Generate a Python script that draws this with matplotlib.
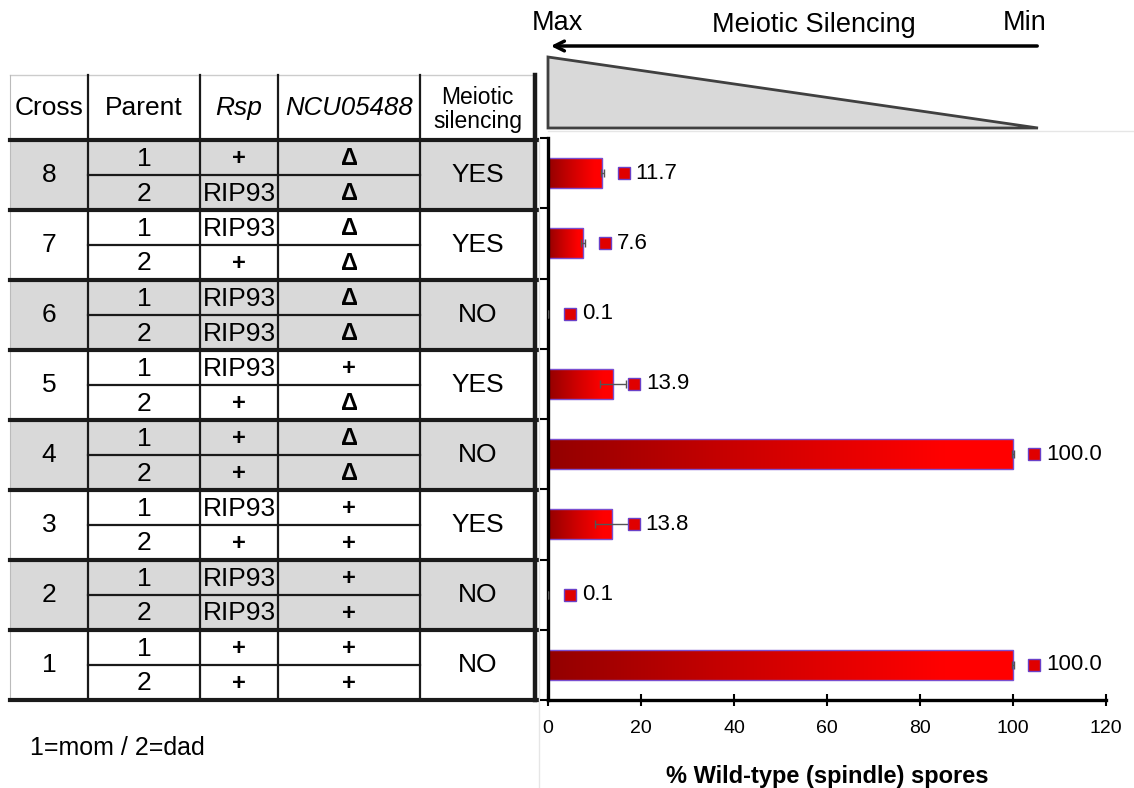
import numpy as np
import matplotlib
matplotlib.use("Agg")
import matplotlib.pyplot as plt
from matplotlib.colors import LinearSegmentedColormap
from matplotlib.patches import Polygon, Rectangle

plt.rcParams['font.family'] = ['Liberation Sans', 'DejaVu Sans']

# ---- data ----
crosses = [8, 7, 6, 5, 4, 3, 2, 1]
parents = ["1", "2"]
rsp = [("+", "RIP93"), ("RIP93", "+"), ("RIP93", "RIP93"), ("RIP93", "+"),
       ("+", "+"), ("RIP93", "+"), ("RIP93", "RIP93"), ("+", "+")]
ncu05488 = [("Δ", "Δ"), ("Δ", "Δ"), ("Δ", "Δ"), ("+", "Δ"),
            ("Δ", "Δ"), ("+", "+"), ("+", "+"), ("+", "+")]
silencing = ["YES", "YES", "NO", "YES", "NO", "YES", "NO", "NO"]
wild_type = [11.7, 7.6, 0.1, 13.9, 100.0, 13.8, 0.1, 100.0]
wild_type_err = [0.4, 0.4, 0.0, 2.8, 0.3, 3.6, 0.0, 0.3]
x_ticks = [0, 20, 40, 60, 80, 100, 120]

W, H = 1134, 788
fig = plt.figure(figsize=(W / 100, H / 100), dpi=100)

# ---- table panel drawn in pixel space ----
axt = fig.add_axes([0, 0, 1, 1], zorder=0)
axt.set_xlim(0, W)
axt.set_ylim(H, 0)
axt.axis("off")

col_x = [10, 88, 200, 278, 420, 535]
header_top, header_bot = 75, 140
row_h = 70
line_c = "#1a1a1a"
grey = "#d9d9d9"
fs = 19


def symbol_text(x, y, s):
    """Genotype symbols (+ / Δ) are set heavier than the plain labels."""
    if s in ("+", "Δ"):
        axt.text(x, y, s, ha="center", va="center", fontsize=17, fontweight="bold")
    else:
        axt.text(x, y, s, ha="center", va="center", fontsize=fs)


for i, c in enumerate(crosses):
    top = header_bot + i * row_h
    if i % 2 == 0:
        axt.add_patch(Rectangle((col_x[0], top), col_x[-1] - col_x[0], row_h,
                                facecolor=grey, edgecolor="none"))
    # thin divider between the two parents
    axt.plot([col_x[1], col_x[4]], [top + row_h / 2] * 2, color=line_c, lw=1.6)
    mid = top + row_h / 2
    axt.text((col_x[0] + col_x[1]) / 2, mid, str(c), ha="center", va="center", fontsize=fs)
    axt.text((col_x[4] + col_x[5]) / 2, mid, silencing[i], ha="center", va="center", fontsize=fs)
    for k in range(2):
        yc = top + row_h * (0.25 + 0.5 * k) + 1
        axt.text((col_x[1] + col_x[2]) / 2, yc, parents[k], ha="center", va="center", fontsize=fs)
        symbol_text((col_x[2] + col_x[3]) / 2, yc, rsp[i][k])
        symbol_text((col_x[3] + col_x[4]) / 2, yc, ncu05488[i][k])

# header
hy = (header_top + header_bot) / 2
axt.text((col_x[0] + col_x[1]) / 2, hy, "Cross", ha="center", va="center", fontsize=fs)
axt.text((col_x[1] + col_x[2]) / 2, hy, "Parent", ha="center", va="center", fontsize=fs)
axt.text((col_x[2] + col_x[3]) / 2, hy, "Rsp", ha="center", va="center", fontsize=fs, style="italic")
axt.text((col_x[3] + col_x[4]) / 2, hy, "NCU05488", ha="center", va="center", fontsize=fs - 0.5,
         style="italic")
axt.text((col_x[4] + col_x[5]) / 2, hy + 2, "Meiotic\nsilencing", ha="center", va="center",
         fontsize=16.5, linespacing=1.1)

# grid lines
table_bot = header_bot + len(crosses) * row_h
axt.plot([col_x[0], col_x[-1]], [header_top] * 2, color="#cccccc", lw=1)
for x in col_x[1:5]:
    axt.plot([x, x], [header_top, table_bot], color=line_c, lw=1.6)
axt.plot([col_x[-1]] * 2, [header_top, table_bot], color=line_c, lw=3.2)
axt.plot([col_x[0]] * 2, [header_top, table_bot], color="#bbbbbb", lw=0.8)
for i in range(len(crosses) + 1):
    y = header_bot + i * row_h
    axt.plot([col_x[0], col_x[-1] + 1.5], [y, y], color=line_c, lw=3.0)

axt.text(30, 748, "1=mom / 2=dad", ha="left", va="center", fontsize=18)

# panel separators
axt.plot([539, 539], [140, H], color="#e6e6e6", lw=1)
axt.plot([548, W], [131, 131], color="#e6e6e6", lw=1)

# silencing gradient wedge and arrow
axt.add_patch(Polygon([[548, 57], [1038, 128], [548, 128]], closed=True,
                      facecolor=grey, edgecolor="#404040", lw=2, joinstyle="miter"))
axt.annotate("", xy=(548, 46), xytext=(1040, 46),
             arrowprops=dict(arrowstyle="->,head_length=0.7,head_width=0.35", color="black", lw=2.5))
axt.text(557, 23, "Max", ha="center", va="center", fontsize=19.5)
axt.text(814, 25, "Meiotic Silencing", ha="center", va="center", fontsize=19.5)
axt.text(1025, 23, "Min", ha="center", va="center", fontsize=19.5)

# ---- bar chart ----
ax_left, ax_right, ax_top, ax_bot = 548, 1106, 138, 700
ax = fig.add_axes([ax_left / W, 1 - ax_bot / H, (ax_right - ax_left) / W, (ax_bot - ax_top) / H],
                  zorder=2)
ax.patch.set_alpha(0)

ypos = np.arange(len(crosses))[::-1]  # cross 8 at top
bar_h = 0.43
bars = ax.barh(ypos, wild_type, height=bar_h, facecolor="none",
               edgecolor="#7a4fd0", lw=1.0, zorder=2.3)

cmap = LinearSegmentedColormap.from_list(
    "redgrad", [(0.0, "#930000"), (0.45, "#d00000"), (0.85, "#ff0000"), (1.0, "#ff0000")])
grad = np.linspace(0, 1, 256).reshape(1, -1)
for b in bars:
    x0, y0 = b.get_x(), b.get_y()
    w, h = b.get_width(), b.get_height()
    im = ax.imshow(grad, cmap=cmap, aspect="auto", extent=[x0, x0 + w, y0, y0 + h],
                   interpolation="bicubic", zorder=2.2)
    im.set_clip_path(b)

ax.errorbar(wild_type, ypos, xerr=wild_type_err, fmt="none", ecolor="#555555",
            elinewidth=1.0, capsize=3, capthick=1.0, zorder=4)

# data labels with legend key
for v, y in zip(wild_type, ypos):
    kx = v + 4.6
    ax.plot(kx, y, marker="s", ms=9, mfc="#e00000", mec="#6a40c8", mew=1.0, zorder=5)
    ax.annotate(f"{v:.1f}", xy=(kx, y), xytext=(8.5, 0), textcoords="offset points",
                ha="left", va="center", fontsize=16)

ax.set_xlim(0, 120)
ax.set_ylim(-0.5, len(crosses) - 0.5)
ax.set_xticks(x_ticks)
ax.set_xticklabels([str(t) for t in x_ticks], fontsize=14)
ax.set_yticks(np.arange(-0.5, len(crosses), 1.0))
ax.set_yticklabels([])
ax.tick_params(axis="y", direction="out", length=6, width=1.5, color="black")
ax.tick_params(axis="x", direction="inout", length=9, width=1.5, color="black", pad=10)
for s in ("top", "right"):
    ax.spines[s].set_visible(False)
for s in ("left", "bottom"):
    ax.spines[s].set_linewidth(2.4)
    ax.spines[s].set_color("black")
    ax.spines[s].set_zorder(3)
ax.set_xlabel("% Wild-type (spindle) spores", fontsize=17, fontweight="bold", labelpad=20)

fig.savefig("out.png", dpi=100)
